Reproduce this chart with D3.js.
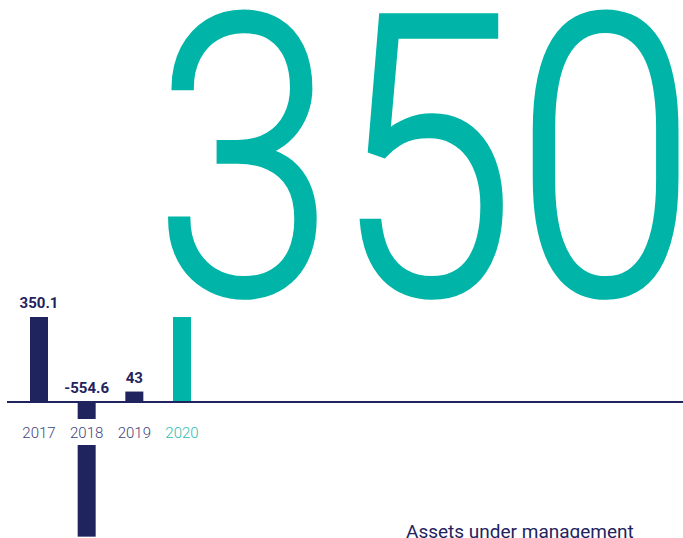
<!DOCTYPE html>
<html>
<head>
<meta charset="utf-8">
<script src="https://cdn.jsdelivr.net/npm/d3@7"></script>
<style>
  body { margin: 0; background: #fff; }
  svg { display: block; }
</style>
</head>
<body>
<script>
var years = ['2017', '2018', '2019', '2020'];
var values = [350.1, -554.6, 43, 350];
var valueLabels = ['350.1', '-554.6', '43', ''];
var bigNumber = '350';
var title = 'Assets under management';

var navy = '#1f235e';
var teal = '#00b4a8';
var width = 683, height = 538;
var baseY = 402;

var svg = d3.select('body').append('svg').attr('width', width).attr('height', height);

var x = d3.scaleBand().domain(years).range([30, 191]).paddingInner(0.6224).paddingOuter(0);
var y = d3.scaleLinear().domain([0, 350.1]).range([baseY, 317]);

function colorOf(d, i) { return i === years.length - 1 ? teal : navy; }

// big highlighted figure
svg.append('text')
  .attr('x', 154)
  .attr('y', 294)
  .attr('font-family', 'Roboto')
  .attr('font-weight', 300)
  .attr('font-size', 392)
  .attr('textLength', 542)
  .attr('lengthAdjust', 'spacingAndGlyphs')
  .attr('fill', teal)
  .attr('stroke', teal)
  .attr('stroke-width', 4)
  .text(bigNumber);

// bars
svg.selectAll('rect.bar')
  .data(values)
  .enter().append('rect')
    .attr('class', 'bar')
    .attr('x', function(d, i) { return x(years[i]); })
    .attr('y', function(d) { return Math.min(y(d), y(0)); })
    .attr('width', x.bandwidth())
    .attr('height', function(d) { return Math.abs(y(d) - y(0)); })
    .attr('fill', colorOf);

// value labels
svg.selectAll('text.val')
  .data(values)
  .enter().append('text')
    .attr('class', 'val')
    .attr('x', function(d, i) { return x(years[i]) + x.bandwidth() / 2; })
    .attr('y', function(d) { return (d >= 0 ? y(d) : y(0)) - 9; })
    .attr('text-anchor', 'middle')
    .attr('font-family', 'Roboto')
    .attr('font-weight', 700)
    .attr('font-size', 15)
    .attr('fill', navy)
    .text(function(d, i) { return valueLabels[i]; });

// zero line
svg.append('line')
  .attr('x1', 7).attr('x2', width)
  .attr('y1', y(0)).attr('y2', y(0))
  .attr('stroke', navy)
  .attr('stroke-width', 2);

// year axis with white knockout behind labels
var xAxis = d3.axisBottom(x).tickSize(0).tickPadding(0);
var ax = svg.append('g').attr('transform', 'translate(0,' + (baseY + 17) + ')').call(xAxis);
ax.select('.domain').remove();
ax.selectAll('.tick').insert('rect', 'text')
  .attr('x', -16).attr('width', 32)
  .attr('y', 0).attr('height', 26)
  .attr('fill', '#fff');
ax.selectAll('.tick text')
  .attr('y', 19)
  .attr('dy', 0)
  .attr('font-family', 'Roboto')
  .attr('font-weight', 300)
  .attr('font-size', 15)
  .attr('fill', function(d, i) { return i === years.length - 1 ? '#2bbdb0' : '#41447a'; });

// title
svg.append('text')
  .attr('x', 406)
  .attr('y', 538)
  .attr('font-family', 'Roboto')
  .attr('font-size', 19)
  .attr('fill', navy)
  .text(title);
</script>
</body>
</html>
